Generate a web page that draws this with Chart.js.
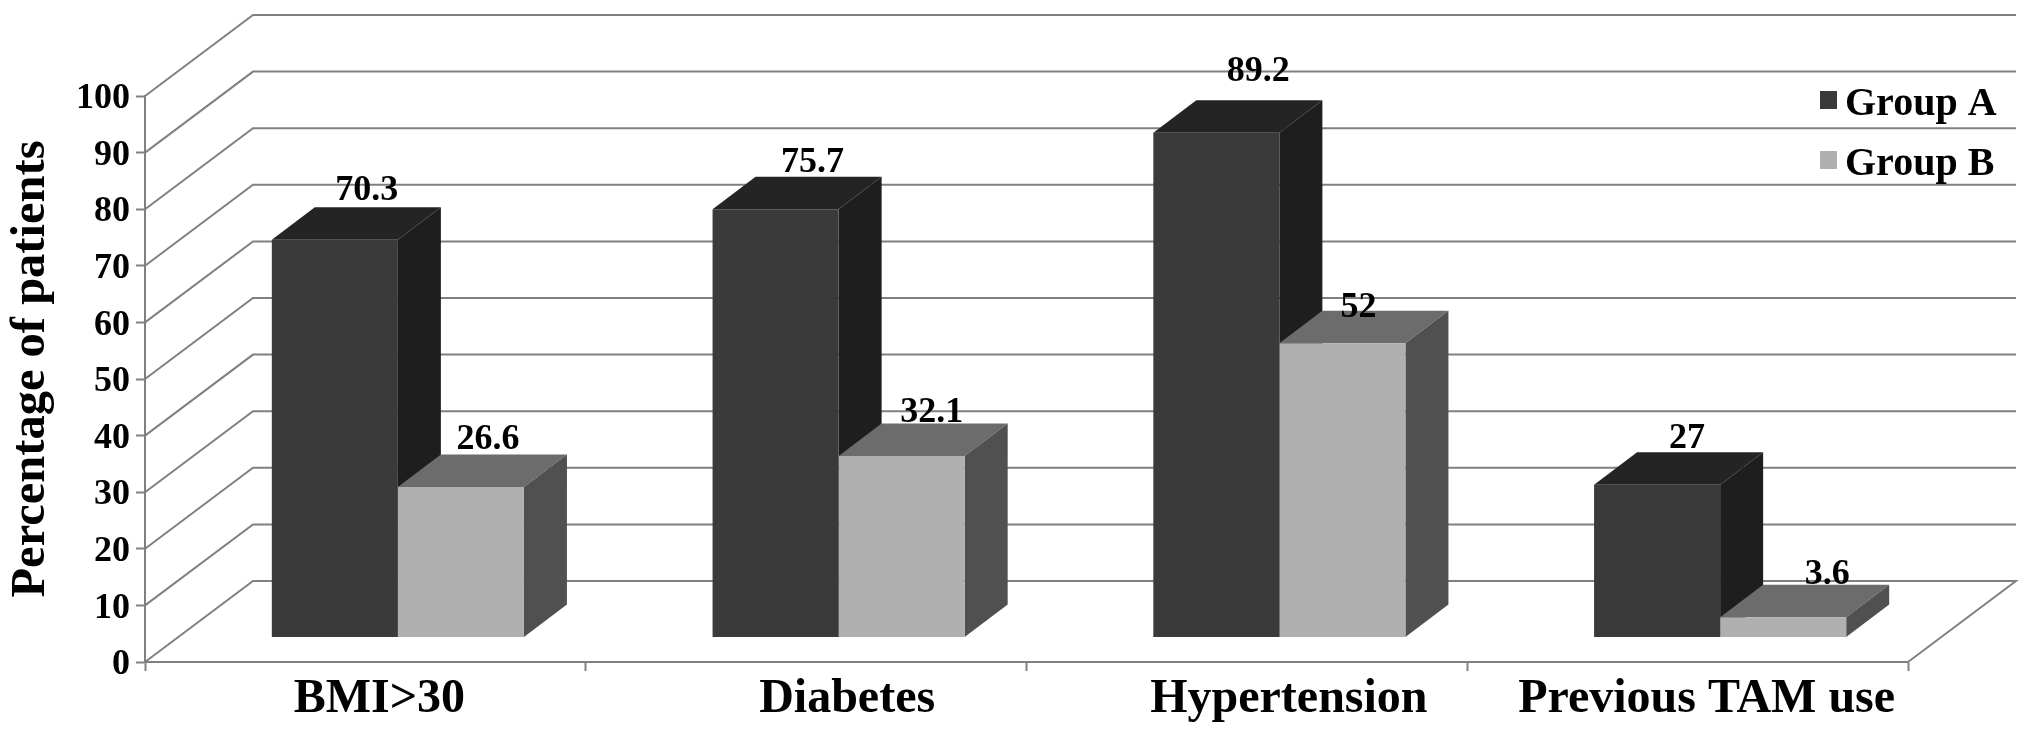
<!DOCTYPE html>
<html lang="en">
<head>
    <meta charset="UTF-8">
    <title>Percentage of patients</title>
    <script src="https://cdn.jsdelivr.net/npm/chart.js"></script>
    <style>
        body {
            margin: 0;
            padding: 0;
            background: #fff;
        }
        canvas {
            display: block;
        }
    </style>
</head>
<body>
    <canvas id="chartCanvas" width="2031" height="735"></canvas>

    <script>
        // Data
        const categories = ['BMI>30', 'Diabetes', 'Hypertension', 'Previous TAM use'];
        const groupA = [70.3, 75.7, 89.2, 27];
        const groupB = [26.6, 32.1, 52, 3.6];
        const yTicks = [0, 10, 20, 30, 40, 50, 60, 70, 80, 90, 100];

        const serif = '"Liberation Serif", "Times New Roman", serif';
        const gridColor = '#808080';

        // 3D look: offset of the back wall and of the bars from the front plane
        const wall = { dx: 108, dy: -81 };
        const barShift = { dx: 32.5, dy: -24.4 };
        const barDepth = { dx: 43, dy: -32.5 };

        // Hand placed labels in the original, offsets from the default spot
        const xLabelNudge = [14, 41, 42, 19];
        const valueNudge = [
            [[32, -7], [37, -5], [42, -19], [30, -4]],
            [[27, -6], [30, -1], [16, 6], [44, -1]]
        ];

        const shades = [
            { front: '#3a3a3a', top: '#242424', side: '#1e1e1e' },
            { front: '#b0b0b0', top: '#6c6c6c', side: '#505050' }
        ];

        function poly(ctx, points, color) {
            ctx.fillStyle = color;
            ctx.beginPath();
            points.forEach((p, i) => i ? ctx.lineTo(p[0], p[1]) : ctx.moveTo(p[0], p[1]));
            ctx.closePath();
            ctx.fill();
        }

        const box3d = {
            id: 'box3d',
            beforeDatasetsDraw(chart) {
                const { ctx, chartArea, scales } = chart;
                ctx.save();

                // back wall and left wall
                ctx.strokeStyle = gridColor;
                ctx.lineWidth = 2;
                yTicks.forEach(v => {
                    const y = scales.y.getPixelForValue(v);
                    ctx.beginPath();
                    ctx.moveTo(chartArea.left, y);
                    ctx.lineTo(chartArea.left + wall.dx, y + wall.dy);
                    ctx.lineTo(chartArea.right + wall.dx, y + wall.dy);
                    if (v === 0) ctx.lineTo(chartArea.right, y);
                    ctx.stroke();
                });

                // top and side faces, Group A first so Group B sits over its side
                ctx.translate(barShift.dx, barShift.dy);
                chart.data.datasets.forEach((ds, d) => {
                    const c = shades[d];
                    chart.getDatasetMeta(d).data.forEach(bar => {
                        const l = bar.x - bar.width / 2;
                        const r = bar.x + bar.width / 2;
                        const t = bar.y;
                        const b = bar.base;
                        poly(ctx, [[l, t], [r, t], [r + barDepth.dx, t + barDepth.dy], [l + barDepth.dx, t + barDepth.dy]], c.top);
                        poly(ctx, [[r, t], [r + barDepth.dx, t + barDepth.dy], [r + barDepth.dx, b + barDepth.dy], [r, b]], c.side);
                    });
                });
                ctx.restore();
            },
            // the library draws the front faces, just moved back onto the floor
            beforeDatasetDraw(chart) {
                chart.ctx.save();
                chart.ctx.translate(barShift.dx, barShift.dy);
            },
            afterDatasetDraw(chart) {
                chart.ctx.restore();
            },
            afterDraw(chart) {
                const { ctx, scales } = chart;
                ctx.save();
                ctx.fillStyle = '#000';
                ctx.textBaseline = 'alphabetic';
                ctx.textAlign = 'center';

                // axis title
                ctx.save();
                ctx.translate(44, 369);
                ctx.rotate(-Math.PI / 2);
                ctx.font = 'bold 48.5px ' + serif;
                ctx.fillText('Percentage of patients', 0, 0);
                ctx.restore();

                // category labels
                ctx.font = 'bold 48px ' + serif;
                categories.forEach((name, i) => {
                    ctx.fillText(name, scales.x.getPixelForTick(i) + xLabelNudge[i], 712);
                });

                // value labels
                ctx.font = 'bold 36px ' + serif;
                chart.data.datasets.forEach((ds, d) => {
                    chart.getDatasetMeta(d).data.forEach((bar, i) => {
                        const n = valueNudge[d][i];
                        ctx.fillText(String(ds.data[i]),
                            bar.x + barShift.dx + n[0],
                            bar.y + barShift.dy + barDepth.dy + n[1]);
                    });
                });

                // legend
                ctx.font = 'bold 40px ' + serif;
                ctx.textAlign = 'left';
                chart.data.datasets.forEach((ds, d) => {
                    const y = 115 + d * 60;
                    ctx.fillStyle = ds.backgroundColor;
                    ctx.fillRect(1820, y - 24, 17, 18);
                    ctx.fillStyle = '#000';
                    ctx.fillText(ds.label, 1845, y);
                });
                ctx.restore();
            }
        };

        new Chart(document.getElementById('chartCanvas').getContext('2d'), {
            type: 'bar',
            data: {
                labels: categories,
                datasets: [
                    { label: 'Group A', data: groupA, backgroundColor: shades[0].front, clip: false },
                    { label: 'Group B', data: groupB, backgroundColor: shades[1].front, clip: false }
                ]
            },
            plugins: [box3d],
            options: {
                responsive: false,
                animation: false,
                layout: { padding: { top: 96, right: 123, left: 0, bottom: 0 } },
                categoryPercentage: 0.572,
                barPercentage: 1,
                plugins: {
                    legend: { display: false },
                    tooltip: { enabled: false }
                },
                scales: {
                    x: {
                        afterFit(scale) { scale.height = 73; },
                        grid: { drawOnChartArea: false, tickLength: 9, tickWidth: 2, tickColor: gridColor },
                        border: { color: gridColor, width: 2 },
                        ticks: { display: false }
                    },
                    y: {
                        min: 0,
                        max: 100,
                        afterFit(scale) { scale.width = 145; },
                        afterBuildTicks(scale) { scale.ticks = yTicks.map(value => ({ value })); },
                        grid: { drawOnChartArea: false, tickLength: 9, tickWidth: 2, tickColor: gridColor },
                        border: { color: gridColor, width: 2 },
                        ticks: {
                            color: '#000',
                            padding: 6,
                            labelOffset: 3,
                            font: { family: serif, size: 36, weight: 'bold' }
                        }
                    }
                }
            }
        });
    </script>
</body>
</html>
